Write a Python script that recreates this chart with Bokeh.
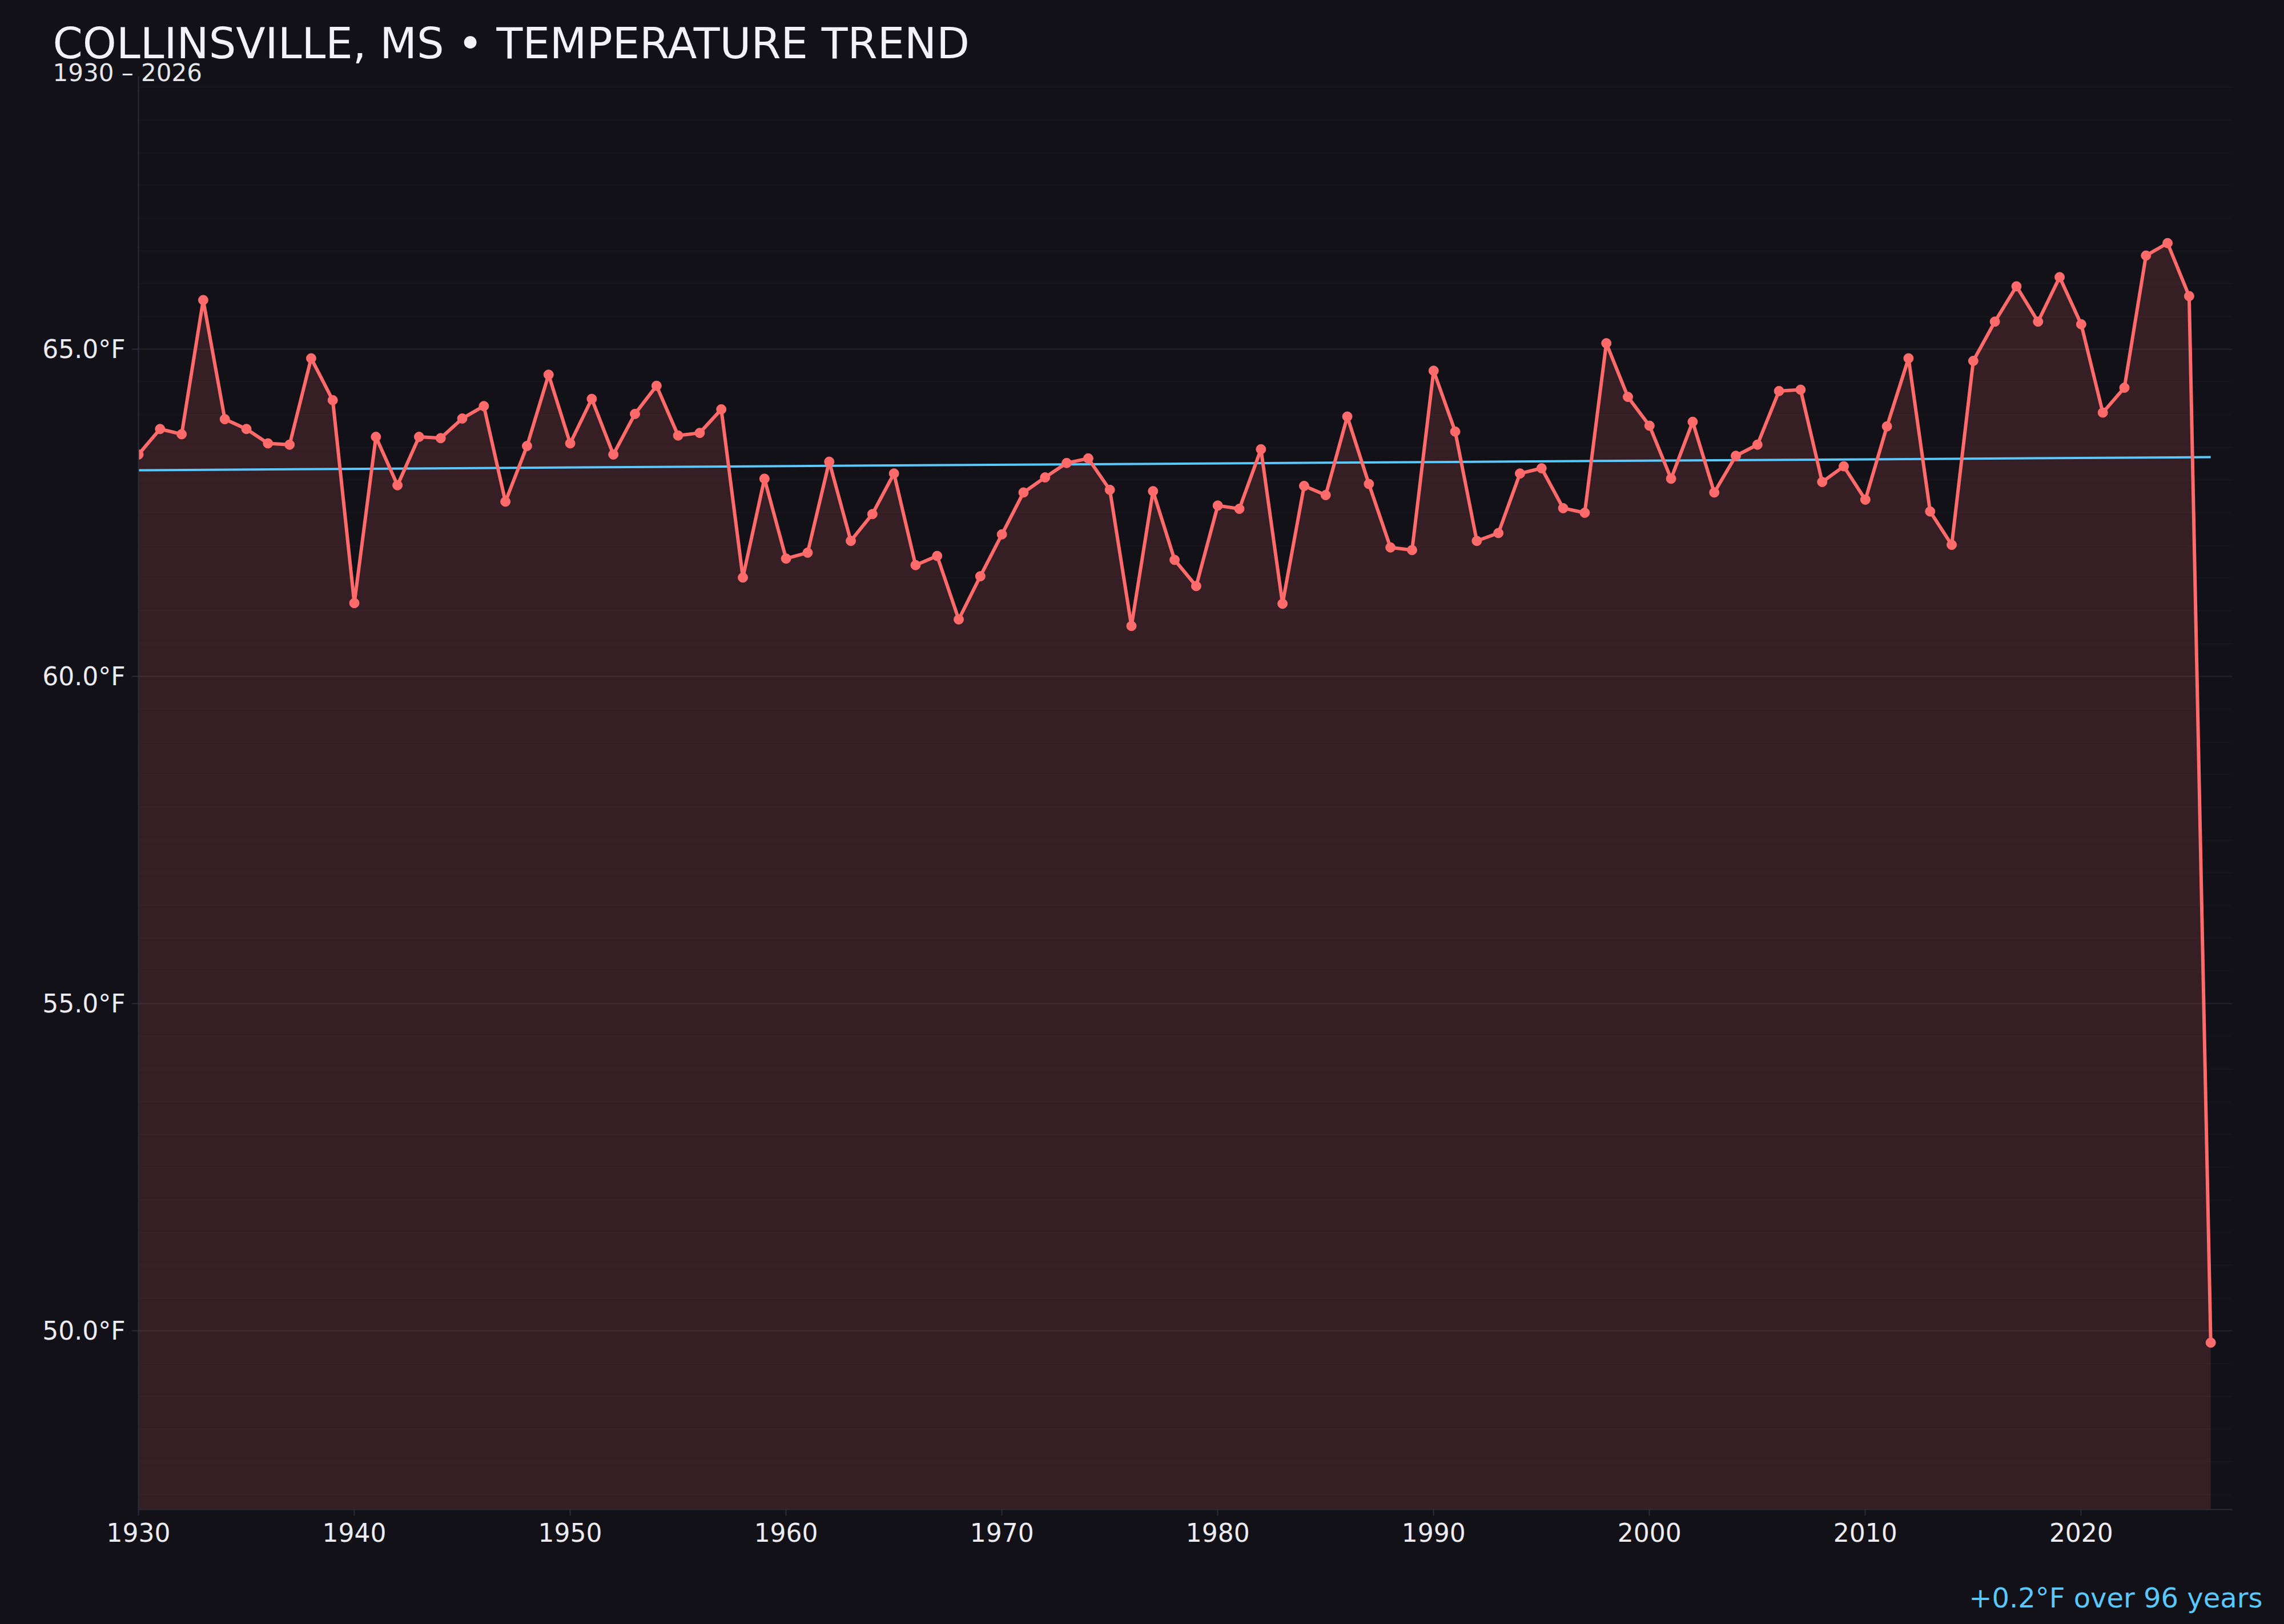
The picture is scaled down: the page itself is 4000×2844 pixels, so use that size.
from bokeh.plotting import figure
from bokeh.models import (Title, LinearAxis, FixedTicker, SingleIntervalTicker,
                          PrintfTickFormatter)
from bokeh.embed import file_html
from bokeh.resources import INLINE

# yearly mean temperature
years = list(range(1930, 2027))
temps = [
    63.39, 63.78, 63.70, 65.75, 63.93, 63.78, 63.56, 63.54, 64.86, 64.22,
    61.12, 63.66, 62.92, 63.66, 63.64, 63.94, 64.13, 62.67, 63.52, 64.61,
    63.56, 64.24, 63.39, 64.01, 64.44, 63.68, 63.72, 64.08, 61.51, 63.02,
    61.80, 61.89, 63.28, 62.07, 62.48, 63.10, 61.70, 61.84, 60.87, 61.53,
    62.17, 62.81, 63.04, 63.26, 63.33, 62.85, 60.77, 62.83, 61.78, 61.38,
    62.61, 62.56, 63.47, 61.11, 62.91, 62.77, 63.97, 62.94, 61.97, 61.93,
    64.67, 63.74, 62.07, 62.19, 63.10, 63.18, 62.57, 62.50, 65.09, 64.27,
    63.83, 63.02, 63.89, 62.81, 63.37, 63.54, 64.36, 64.38, 62.97, 63.21,
    62.70, 63.82, 64.86, 62.52, 62.01, 64.82, 65.42, 65.96, 65.42, 66.10,
    65.38, 64.03, 64.41, 66.43, 66.62, 65.81, 49.82,
]
trend_years = [1930, 2026]
trend_vals = [63.15, 63.35]

title_text = "COLLINSVILLE, MS \u2022 TEMPERATURE TREND"
subtitle_text = "1930 \u2013 2026"
note_text = "+0.2\u00b0F over 96 years"

BG = "#121118"
RED = "#ff6b6b"
BLUE = "#5ac8fa"
FONT = "DejaVu Sans"

y_lo, y_hi = 47.27, 69.17

p = figure(width=3984, height=2836, x_range=(1930, 2027), y_range=(y_lo, y_hi),
           output_backend="svg", toolbar_location=None,
           min_border_left=242, min_border_right=75,
           min_border_top=133, min_border_bottom=193)
p.background_fill_color = BG
p.border_fill_color = BG
p.outline_line_color = None

# area under the line, then trend, then the series
p.varea(x=years, y1=[y_lo] * len(years), y2=temps, fill_color=RED, fill_alpha=0.15)
p.line(trend_years, trend_vals, line_color=BLUE, line_width=4)
p.line(years, temps, line_color=RED, line_width=6)
p.scatter(years, temps, size=17, fill_color=RED, line_color=RED)

# axes
p.xaxis.ticker = SingleIntervalTicker(interval=10, num_minor_ticks=0)
p.yaxis.ticker = SingleIntervalTicker(interval=5, num_minor_ticks=10)
p.yaxis.formatter = PrintfTickFormatter(format="%.1f\u00b0F")
for ax in (p.xaxis, p.yaxis):
    ax.axis_line_color = "#2c2c38"
    ax.axis_line_width = 2
    ax.major_tick_line_color = "#2c2c38"
    ax.major_tick_line_width = 2
    ax.major_tick_out = 11
    ax.major_tick_in = 0
    ax.minor_tick_line_color = None
    ax.major_label_text_color = "#ececf1"
    ax.major_label_text_font = FONT
    ax.major_label_text_font_size = "44px"
    ax.major_label_standoff = 12

p.xgrid.grid_line_color = None
p.ygrid.grid_line_color = "#ffffff"
p.ygrid.grid_line_alpha = 0.06
p.ygrid.grid_line_width = 2
p.ygrid.minor_grid_line_color = "#ffffff"
p.ygrid.minor_grid_line_alpha = 0.025
p.ygrid.minor_grid_line_width = 2

# titles: subtitle nearest the frame, main title above it
p.title = None
p.add_layout(Title(text=subtitle_text, align="left", offset=-150, standoff=-37,
                   text_font=FONT, text_font_size="42px", text_color="#e6e6ec",
                   text_font_style="normal"), "above")
p.add_layout(Title(text=title_text, align="left", offset=-150, standoff=0,
                   text_font=FONT, text_font_size="75px", text_color="#f2f2f7",
                   text_font_style="normal"), "above")

# trend note under the x axis, bottom right (a bare axis holding one label)
note_x = 2021.6
note_axis = LinearAxis(ticker=FixedTicker(ticks=[note_x]),
                       major_label_overrides={note_x: note_text},
                       axis_line_color=None, major_tick_line_color=None,
                       minor_tick_line_color=None, major_tick_out=0, major_tick_in=0,
                       major_label_standoff=67, major_label_text_color=BLUE,
                       major_label_text_font=FONT, major_label_text_font_size="48px")
p.add_layout(note_axis, "below")

html = file_html(p, INLINE)
html = html.replace("<head>", "<head><style>body{background:%s;}</style>" % BG, 1)
open("out.html", "w").write(html)
